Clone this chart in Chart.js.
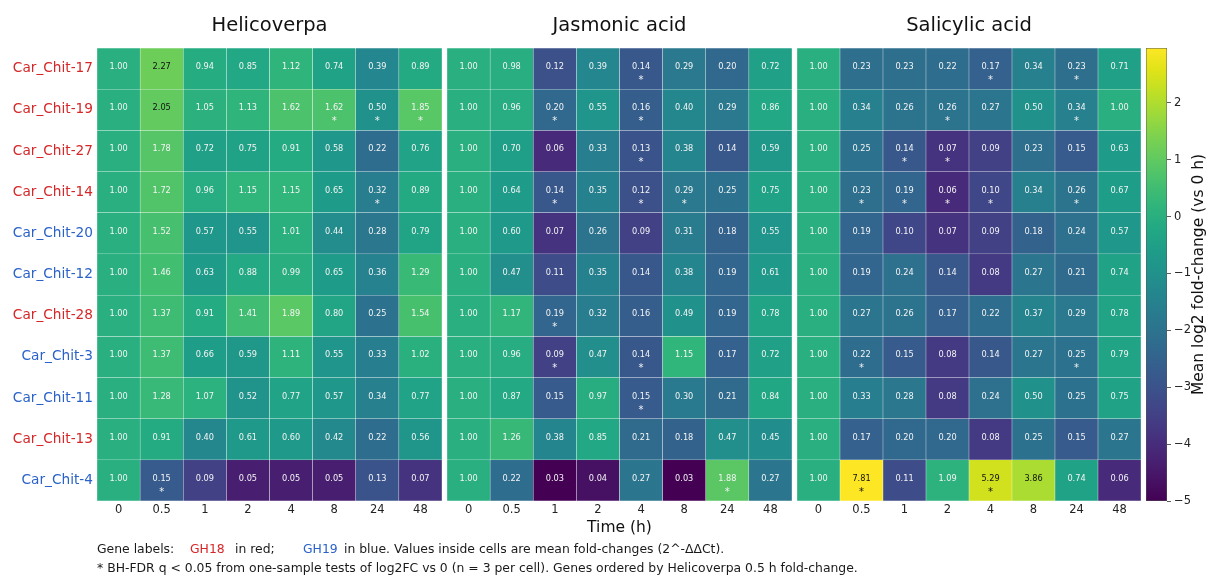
<!DOCTYPE html>
<html><head><meta charset="utf-8">
<script src="https://cdn.jsdelivr.net/npm/chart.js@4.4.1/dist/chart.umd.min.js"></script>
<style>
html,body{margin:0;padding:0;background:#fff;}
#wrap{position:relative;width:1211px;height:578px;overflow:hidden;font-family:'DejaVu Sans',sans-serif;}
canvas{position:absolute;top:0;}
.fn{position:absolute;font-size:12.4px;color:#1a1a1a;white-space:nowrap;line-height:15px;}
</style></head><body>
<div id="wrap">
<canvas id="c1" width="442" height="578" style="left:0px"></canvas>
<canvas id="c2" width="345" height="578" style="left:447px"></canvas>
<canvas id="c3" width="344" height="578" style="left:797px"></canvas>
<canvas id="cb" width="65" height="578" style="left:1146px"></canvas>
<div class="fn" style="left:97px;top:541px">Gene labels:</div>
<div class="fn" style="left:190px;top:541px;color:#d62728">GH18</div>
<div class="fn" style="left:235px;top:541px">in red;</div>
<div class="fn" style="left:303px;top:541px;color:#2a62c9">GH19</div>
<div class="fn" style="left:344px;top:541px">in blue. Values inside cells are mean fold-changes (2^-ΔΔCt).</div>
<div class="fn" style="left:97px;top:560px">* BH-FDR q &lt; 0.05 from one-sample tests of log2FC vs 0 (n = 3 per cell). Genes ordered by Helicoverpa 0.5 h fold-change.</div>
</div>
<script>
const genes = ['Car_Chit-17','Car_Chit-19','Car_Chit-27','Car_Chit-14','Car_Chit-20','Car_Chit-12','Car_Chit-28','Car_Chit-3','Car_Chit-11','Car_Chit-13','Car_Chit-4'];
const geneFamily = ['GH18','GH18','GH18','GH18','GH19','GH19','GH18','GH19','GH19','GH18','GH19'];
const times = ['0','0.5','1','2','4','8','24','48'];
const panelTitles = ['Helicoverpa','Jasmonic acid','Salicylic acid'];

const helicoverpaFC = [
 [1.00,2.27,0.94,0.85,1.12,0.74,0.39,0.89],
 [1.00,2.05,1.05,1.13,1.62,1.62,0.50,1.85],
 [1.00,1.78,0.72,0.75,0.91,0.58,0.22,0.76],
 [1.00,1.72,0.96,1.15,1.15,0.65,0.32,0.89],
 [1.00,1.52,0.57,0.55,1.01,0.44,0.28,0.79],
 [1.00,1.46,0.63,0.88,0.99,0.65,0.36,1.29],
 [1.00,1.37,0.91,1.41,1.89,0.80,0.25,1.54],
 [1.00,1.37,0.66,0.59,1.11,0.55,0.33,1.02],
 [1.00,1.28,1.07,0.52,0.77,0.57,0.34,0.77],
 [1.00,0.91,0.40,0.61,0.60,0.42,0.22,0.56],
 [1.00,0.15,0.09,0.05,0.05,0.05,0.13,0.07]
];
const helicoverpaSig = [
 [0,0,0,0,0,0,0,0],
 [0,0,0,0,0,1,1,1],
 [0,0,0,0,0,0,0,0],
 [0,0,0,0,0,0,1,0],
 [0,0,0,0,0,0,0,0],
 [0,0,0,0,0,0,0,0],
 [0,0,0,0,0,0,0,0],
 [0,0,0,0,0,0,0,0],
 [0,0,0,0,0,0,0,0],
 [0,0,0,0,0,0,0,0],
 [0,1,0,0,0,0,0,0]
];
const jasmonicFC = [
 [1.00,0.98,0.12,0.39,0.14,0.29,0.20,0.72],
 [1.00,0.96,0.20,0.55,0.16,0.40,0.29,0.86],
 [1.00,0.70,0.06,0.33,0.13,0.38,0.14,0.59],
 [1.00,0.64,0.14,0.35,0.12,0.29,0.25,0.75],
 [1.00,0.60,0.07,0.26,0.09,0.31,0.18,0.55],
 [1.00,0.47,0.11,0.35,0.14,0.38,0.19,0.61],
 [1.00,1.17,0.19,0.32,0.16,0.49,0.19,0.78],
 [1.00,0.96,0.09,0.47,0.14,1.15,0.17,0.72],
 [1.00,0.87,0.15,0.97,0.15,0.30,0.21,0.84],
 [1.00,1.26,0.38,0.85,0.21,0.18,0.47,0.45],
 [1.00,0.22,0.03,0.04,0.27,0.03,1.88,0.27]
];
const jasmonicSig = [
 [0,0,0,0,1,0,0,0],
 [0,0,1,0,1,0,0,0],
 [0,0,0,0,1,0,0,0],
 [0,0,1,0,1,1,0,0],
 [0,0,0,0,0,0,0,0],
 [0,0,0,0,0,0,0,0],
 [0,0,1,0,0,0,0,0],
 [0,0,1,0,1,0,0,0],
 [0,0,0,0,1,0,0,0],
 [0,0,0,0,0,0,0,0],
 [0,0,0,0,0,0,1,0]
];
const salicylicFC = [
 [1.00,0.23,0.23,0.22,0.17,0.34,0.23,0.71],
 [1.00,0.34,0.26,0.26,0.27,0.50,0.34,1.00],
 [1.00,0.25,0.14,0.07,0.09,0.23,0.15,0.63],
 [1.00,0.23,0.19,0.06,0.10,0.34,0.26,0.67],
 [1.00,0.19,0.10,0.07,0.09,0.18,0.24,0.57],
 [1.00,0.19,0.24,0.14,0.08,0.27,0.21,0.74],
 [1.00,0.27,0.26,0.17,0.22,0.37,0.29,0.78],
 [1.00,0.22,0.15,0.08,0.14,0.27,0.25,0.79],
 [1.00,0.33,0.28,0.08,0.24,0.50,0.25,0.75],
 [1.00,0.17,0.20,0.20,0.08,0.25,0.15,0.27],
 [1.00,7.81,0.11,1.09,5.29,3.86,0.74,0.06]
];
const salicylicSig = [
 [0,0,0,0,1,0,1,0],
 [0,0,0,1,0,0,1,0],
 [0,0,1,1,0,0,0,0],
 [0,1,1,1,1,0,1,0],
 [0,0,0,0,0,0,0,0],
 [0,0,0,0,0,0,0,0],
 [0,0,0,0,0,0,0,0],
 [0,1,0,0,0,0,1,0],
 [0,0,0,0,0,0,0,0],
 [0,0,0,0,0,0,0,0],
 [0,1,0,0,1,0,0,0]
];
const colorbarTicks = [-5,-4,-3,-2,-1,0,1,2];
const familyColors = {GH18:'#d62728', GH19:'#2a62c9'};

const viridisStops = ['#440154','#471365','#482475','#463480','#414487','#3b528b','#355f8d','#2f6c8e','#2a788e','#25848e','#21918c','#1e9c89','#22a884','#2fb47c','#44bf70','#5ec962','#7ad151','#9bd93c','#bddf26','#dfe318','#fde725'];
const vmin = -5;
const allFC = helicoverpaFC.flat().concat(jasmonicFC.flat(), salicylicFC.flat());
const vmax = Math.log2(Math.max(...allFC));
const cellSpan = 1;

function hex2rgb(h){return [parseInt(h.slice(1,3),16),parseInt(h.slice(3,5),16),parseInt(h.slice(5,7),16)];}
const stopRGB = viridisStops.map(hex2rgb);
function viridis(t){
  t = Math.max(0, Math.min(1, t));
  const p = t*(stopRGB.length-1), i = Math.min(Math.floor(p), stopRGB.length-2), f = p-i;
  const a = stopRGB[i], b = stopRGB[i+1];
  return 'rgb('+a.map((v,k)=>Math.round(v+(b[k]-v)*f)).join(',')+')';
}
function normFC(v){ return (Math.log2(v)-vmin)/(vmax-vmin); }

const FONT = "'DejaVu Sans'";

const cellText = {
  id:'cellText',
  afterDatasetsDraw(chart){
    const ctx = chart.ctx;
    ctx.save();
    chart.data.datasets.forEach((ds, r)=>{
      const meta = chart.getDatasetMeta(r);
      meta.data.forEach((el, c)=>{
        const v = ds.fc[c];
        const cx = el.x, cy = (el.y + el.base)/2;
        ctx.fillStyle = Math.log2(v) > 1 ? '#111111' : '#f4f4f4';
        ctx.textAlign = 'center';
        ctx.textBaseline = 'alphabetic';
        ctx.font = '8.2px ' + FONT;
        ctx.fillText(v.toFixed(2), cx, cy + 0.5);
        if (ds.sig[c]) {
          ctx.font = '10px ' + FONT;
          ctx.fillText('*', cx, cy + 14.5);
        }
      });
    });
    ctx.restore();
  }
};

const panelTitle = {
  id:'panelTitle',
  afterDraw(chart, args, opts){
    const ca = chart.chartArea, ctx = chart.ctx;
    ctx.save();
    ctx.fillStyle = '#111';
    ctx.font = '19.5px ' + FONT;
    ctx.textAlign = 'center';
    ctx.textBaseline = 'alphabetic';
    ctx.fillText(opts.text, (ca.left+ca.right)/2, 31);
    ctx.restore();
  }
};

function makePanel(id, title, fc, sig, showY, xTitle){
  return new Chart(document.getElementById(id), {
    type:'bar',
    data:{
      labels: times,
      datasets: genes.map((g, r)=>({
        label: g,
        data: fc[r].map(()=>cellSpan),
        fc: fc[r],
        sig: sig[r],
        backgroundColor: fc[r].map(v=>viridis(normFC(v))),
        borderColor: 'rgba(255,255,255,0.35)',
        borderWidth: 0.5,
        borderSkipped: false,
        barPercentage: 1,
        categoryPercentage: 1
      }))
    },
    options:{
      responsive:false, animation:false,
      layout:{padding:{top:48,left:0,right:0,bottom:0}},
      plugins:{legend:{display:false}, tooltip:{enabled:false}, panelTitle:{text:title}},
      scales:{
        x:{
          stacked:true,
          grid:{display:false, drawTicks:false},
          border:{display:false},
          ticks:{padding:2, color:'#222', font:{family:'DejaVu Sans', size:11.5}, maxRotation:0},
          title:{display:!!xTitle, text:xTitle||'', color:'#111', font:{family:'DejaVu Sans', size:15.5}, padding:{top:0,bottom:41}},
          afterFit(s){ s.height = 77; }
        },
        y:{
          stacked:true, min:0, max:genes.length, reverse:true,
          display: showY,
          grid:{display:false, drawTicks:false},
          border:{display:false},
          afterBuildTicks(s){ s.ticks = genes.map((g,i)=>({value:i+0.5})); },
          ticks:{
            autoSkip:false, padding:4,
            callback:(v,i)=>genes[i],
            color:(c)=>familyColors[geneFamily[c.index]],
            font:{family:'DejaVu Sans', size:13.7}
          },
          afterFit(s){ s.width = showY ? 97 : 0; }
        }
      }
    },
    plugins:[cellText, panelTitle]
  });
}

makePanel('c1', panelTitles[0], helicoverpaFC, helicoverpaSig, true, null);
makePanel('c2', panelTitles[1], jasmonicFC, jasmonicSig, false, 'Time (h)');
makePanel('c3', panelTitles[2], salicylicFC, salicylicSig, false, null);

const cbLabel = {
  id:'cbLabel',
  afterDraw(chart){
    const ctx = chart.ctx, ca = chart.chartArea;
    ctx.save();
    ctx.translate(53, (ca.top+ca.bottom)/2);
    ctx.rotate(-Math.PI/2);
    ctx.fillStyle = '#111';
    ctx.font = '15.5px ' + FONT;
    ctx.textAlign = 'center';
    ctx.textBaseline = 'middle';
    ctx.fillText('Mean log2 fold-change (vs 0 h)', 0, 0);
    ctx.restore();
  }
};

new Chart(document.getElementById('cb'), {
  type:'bar',
  data:{
    labels:[''],
    datasets:[{
      data:[[vmin, vmax]],
      backgroundColor:(c)=>{
        const ca = c.chart.chartArea;
        if (!ca) return '#21918c';
        const g = c.chart.ctx.createLinearGradient(0, ca.bottom, 0, ca.top);
        viridisStops.forEach((s,i)=>g.addColorStop(i/(viridisStops.length-1), s));
        return g;
      },
      borderColor:'#555',
      borderWidth:0.8,
      borderSkipped:false,
      barPercentage:1,
      categoryPercentage:1
    }]
  },
  options:{
    responsive:false, animation:false,
    layout:{padding:{top:48,bottom:77,left:0,right:0}},
    plugins:{legend:{display:false}, tooltip:{enabled:false}},
    scales:{
      x:{display:false},
      y:{
        position:'right', min:vmin, max:vmax,
        afterBuildTicks(s){ s.ticks = colorbarTicks.map(v=>({value:v})); },
        ticks:{
          padding:3, color:'#222', font:{family:'DejaVu Sans', size:11.5},
          callback:(v)=> v < 0 ? '\u2212' + Math.abs(v) : String(v)
        },
        grid:{drawOnChartArea:false, drawTicks:true, tickLength:4, color:'#333', lineWidth:0.8},
        border:{display:false},
        afterFit(s){ s.width = 44; }
      }
    }
  },
  plugins:[cbLabel]
});
</script>
</body></html>
